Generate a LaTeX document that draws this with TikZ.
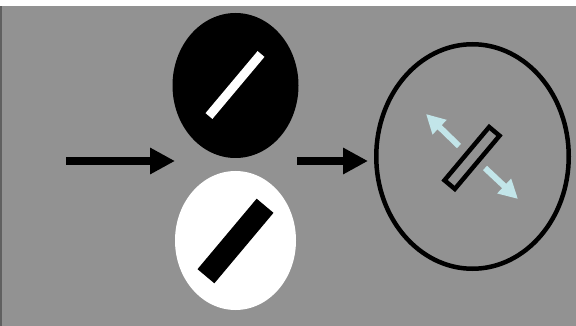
\documentclass[tikz,border=0pt]{standalone}
\usepackage{tikz}
\usetikzlibrary{shapes.geometric, arrows.meta}
\definecolor{backdrop}{RGB}{146,146,146}
\definecolor{edgeline}{RGB}{96,96,96}
\definecolor{frost}{RGB}{194,229,233}
\tikzset{
  disc/.style={ellipse, inner sep=0pt, draw=none},
  rod/.style={rectangle, inner sep=0pt, rotate=50},
  bigarrow/.style={line width=8pt, -{Triangle[length=25pt, width=25pt]}},
  lightarrow/.style={frost, line width=6pt, -{Triangle[length=19pt, width=19pt]}}
}
\begin{document}
\begin{tikzpicture}[x=1pt, y=-1pt]
  \useasboundingbox (0,0) rectangle (576,326);
  % Backdrop
  \fill[backdrop] (0,6) rectangle (576,326);
  \fill[edgeline] (0,6) rectangle (2,326);
  % Two polarisations
  \node[disc, fill=black, minimum width=126pt, minimum height=145pt] (darkdisc) at (235.5,85.5) {};
  \node[rod, fill=white, minimum width=81pt, minimum height=9pt] (lightrod) at (235,85) {};
  \node[disc, fill=white, minimum width=121pt, minimum height=139pt] (lightdisc) at (235.5,240.5) {};
  \node[rod, fill=black, minimum width=92pt, minimum height=22pt] (darkrod) at (235.5,241) {};
  % Resulting state
  \node[disc, draw=black, line width=4.5pt, minimum width=192.5pt, minimum height=224.5pt] (ring) at (472.5,156.5) {};
  \node[rod, draw=black, line width=4.5pt, minimum width=69.5pt, minimum height=13.5pt] (hollowrod) at (472,158) {};
  % Arrows
  \coordinate (source) at (66,161);
  \coordinate (split) at (175,161);
  \coordinate (merge) at (297,161);
  \coordinate (target) at (368,161);
  \draw[bigarrow] (source) -- (split);
  \draw[bigarrow] (merge) -- (target);
  \coordinate (upfrom) at (459,146);
  \coordinate (upto) at (426,114);
  \coordinate (downfrom) at (485,168);
  \coordinate (downto) at (518,199);
  \draw[lightarrow] (upfrom) -- (upto);
  \draw[lightarrow] (downfrom) -- (downto);
\end{tikzpicture}
\end{document}
